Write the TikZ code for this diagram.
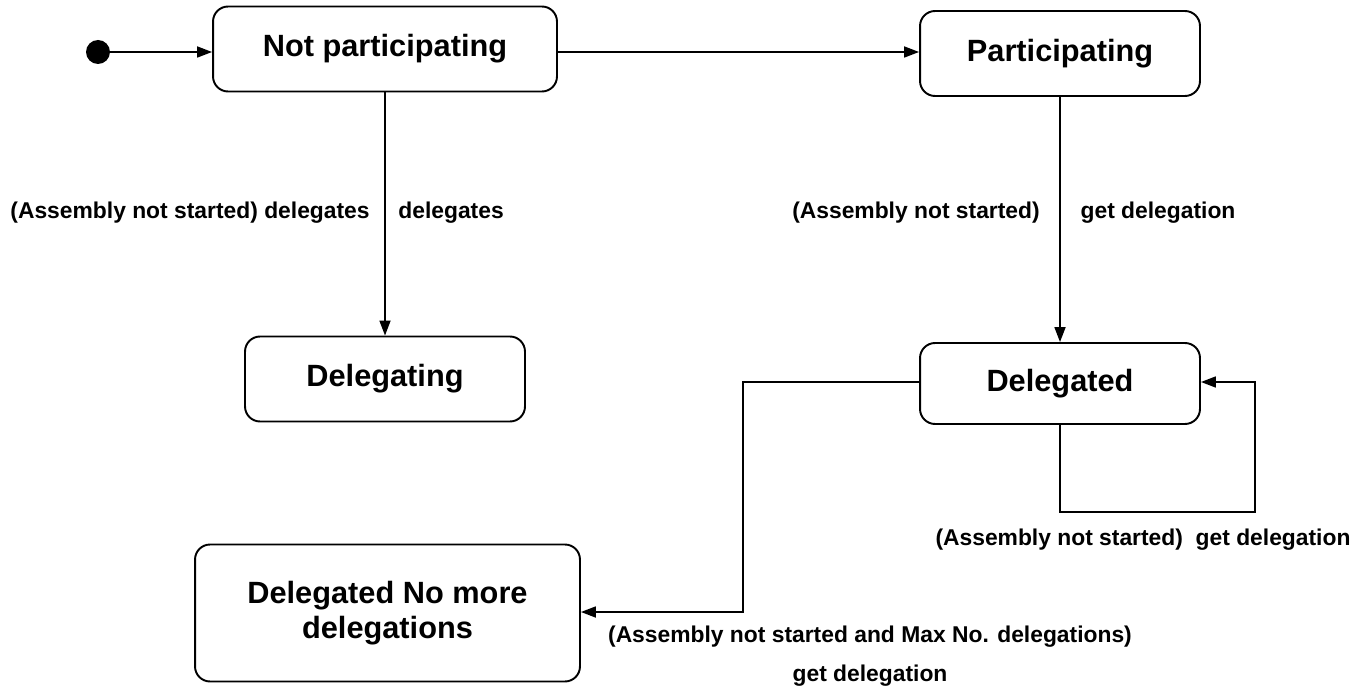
\documentclass[tikz,border=0pt]{standalone}
\usepackage{fontspec}
\setmainfont{Liberation Sans}
\usetikzlibrary{arrows.meta, positioning}

\begin{document}
\begin{tikzpicture}[
        x=0.02cm, y=-0.02cm,
        every node/.style={font=\bfseries},
        state/.style={draw, rounded corners=0.3cm, line width=1.1pt, minimum width=5.6cm, minimum height=1.7cm, font=\fontsize{17.5}{20}\selectfont\bfseries, align=center},
        lbl/.style={font=\fontsize{13}{16}\selectfont\bfseries, inner sep=0pt},
        trans/.style={line width=1pt, -{Triangle[length=0.3cm, width=0.22cm]}}
    ]
        \useasboundingbox (0,0) rectangle (1358,692);

        % Zustaende
        \node [circle, fill=black, minimum size=0.48cm, inner sep=0pt] (init) at (98,52) {};
        \node [state, minimum width=6.88cm] (np) at (385,49) {Not participating};
        \node [state] (p) at (1060,53.5) {Participating};
        \node [state] (dg) at (385,379) {Delegating};
        \node [state, minimum height=1.62cm] (dd) at (1060,383.5) {Delegated};
        \node [state, minimum width=7.7cm, minimum height=2.74cm, font=\fontsize{17.5}{20}\selectfont\bfseries] (dnm) at (387.5,613) {Delegated No more\\delegations};

        % Hilfspunkte
        \coordinate (c1) at (743,382);
        \coordinate (c2) at (743,612);
        \coordinate (c3) at (1060,512);
        \coordinate (c4) at (1255,512);
        \coordinate (c5) at (1255,382);

        % Uebergaenge
        \draw[trans] (init) -- (np.west |- init);
        \draw[trans] (np.east |- init) -- (p.west |- init);
        \draw[trans] (np) -- (dg);
        \draw[trans] (p) -- (dd);
        \draw[trans] (dd.west |- c1) -- (c1) -- (c2) -- (dnm.east |- c2);
        \draw[trans] (dd.south |- dd.south) -- (c3) -- (c4) -- (c5) -- (dd.east |- c5);

        % Beschriftungen
        \node [lbl, anchor=east] (l1) at (370,213) {(Assembly not started) delegates};
        \node [lbl, anchor=west] (l2) at (398,213) {delegates};
        \node [lbl] (l3) at (916,213) {(Assembly not started)};
        \node [lbl] (l4) at (1158,213) {get delegation};
        \node [lbl] (l5) at (1143,540) {(Assembly not started)\ \ get delegation};
        \node [lbl] (l6) at (870,637) {(Assembly not started and Max No. delegations)};
        \node [lbl] (l7) at (870,676) {get delegation};
    \end{tikzpicture}
\end{document}
